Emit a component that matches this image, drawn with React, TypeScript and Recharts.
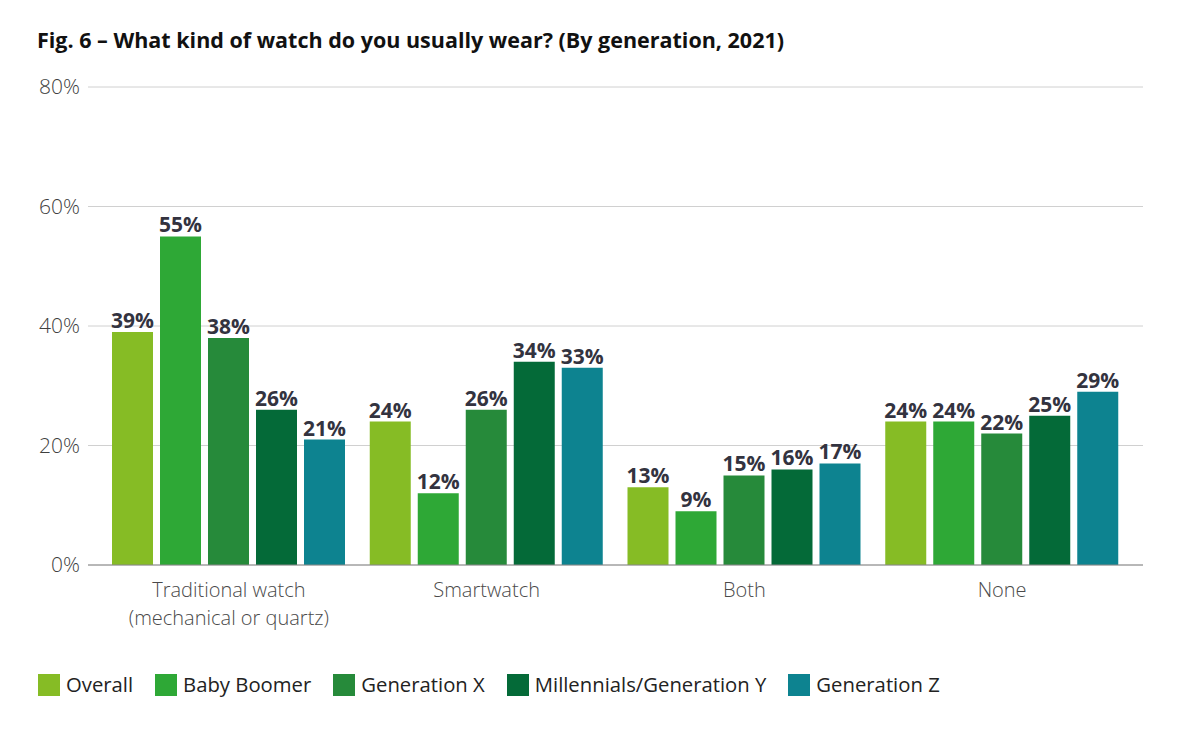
import React from 'react'
import { BarChart, Bar, XAxis, YAxis, CartesianGrid, Legend, LabelList } from 'recharts'

const categories = ['Traditional watch\n(mechanical or quartz)', 'Smartwatch', 'Both', 'None']
const overall = [39, 24, 13, 24]
const babyBoomer = [55, 12, 9, 24]
const generationX = [38, 26, 15, 22]
const millennials = [26, 34, 16, 25]
const generationZ = [21, 33, 17, 29]
const yTicks = [0, 20, 40, 60, 80]

const series = [
  { key: 'overall', name: 'Overall', color: '#86BC25', values: overall },
  { key: 'babyBoomer', name: 'Baby Boomer', color: '#2EA836', values: babyBoomer },
  { key: 'generationX', name: 'Generation X', color: '#268A3A', values: generationX },
  { key: 'millennials', name: 'Millennials/Generation Y', color: '#046A38', values: millennials },
  { key: 'generationZ', name: 'Generation Z', color: '#0D8390', values: generationZ },
]

const data = categories.map((c, i) => {
  const row: Record<string, string | number> = { category: c }
  series.forEach((s) => (row[s.key] = s.values[i]))
  return row
})

const FONT = '"Open Sans", sans-serif'

function CategoryTick(props: any) {
  const { x, y, payload } = props
  const lines = String(payload.value).split('\n')
  return (
    <text x={x} y={y} textAnchor="middle" fill="#4a4a4a" fontSize={20} fontFamily={FONT} fontWeight={300}>
      {lines.map((l, i) => (
        <tspan key={i} x={x} dy={i === 0 ? 24 : 28}>
          {l}
        </tspan>
      ))}
    </text>
  )
}

function LegendContent() {
  return (
    <div style={{ display: 'flex', fontFamily: FONT, fontSize: 20.3, color: '#222', lineHeight: '27px' }}>
      {series.map((s) => (
        <div key={s.key} style={{ display: 'flex', alignItems: 'center', marginRight: 22 }}>
          <span style={{ width: 22, height: 22, background: s.color, display: 'inline-block', marginRight: 6 }} />
          <span>{s.name}</span>
        </div>
      ))}
    </div>
  )
}

export default function App() {
  return (
    <div style={{ position: 'absolute', left: 0, top: 0, width: 1200, height: 735, background: '#fff' }}>
      <div
        style={{
          position: 'absolute',
          left: 37,
          top: 25,
          fontFamily: FONT,
          fontWeight: 700,
          fontSize: 21.5,
          color: '#111',
          whiteSpace: 'nowrap',
        }}
      >
        Fig. 6 – What kind of watch do you usually wear? (By generation, 2021)
      </div>
      <BarChart
        width={1200}
        height={735}
        data={data}
        margin={{ top: 87, right: 57, left: 0, bottom: 73 }}
        barGap={7}
        barCategoryGap={12}
        style={{ position: 'absolute', left: 0, top: 0 }}
      >
        <CartesianGrid vertical={false} stroke="#d0d0d0" />
        <XAxis
          dataKey="category"
          axisLine={{ stroke: '#888' }}
          tickLine={false}
          tick={<CategoryTick />}
          interval={0}
          height={70}
          padding={{ left: 12, right: 12 }}
        />
        <YAxis
          domain={[0, 80]}
          ticks={yTicks}
          tickFormatter={(v) => `${v}%`}
          axisLine={false}
          tickLine={false}
          width={88}
          tick={{ fontSize: 21, fill: '#3f3f3f', fontFamily: FONT, fontWeight: 300 }}
        />
        <Legend
          layout="horizontal"
          verticalAlign="bottom"
          align="left"
          content={<LegendContent />}
          wrapperStyle={{ position: 'absolute', top: 671, left: 38, width: 1100 }}
        />
        {series.map((s) => (
          <Bar key={s.key} dataKey={s.key} name={s.name} fill={s.color} barSize={41} isAnimationActive={false}>
            <LabelList
              dataKey={s.key}
              position="top"
              offset={4}
              formatter={(v: any) => `${v}%`}
              style={{ fontSize: 21, fontWeight: 700, fill: '#33333f', fontFamily: FONT }}
            />
          </Bar>
        ))}
      </BarChart>
    </div>
  )
}
